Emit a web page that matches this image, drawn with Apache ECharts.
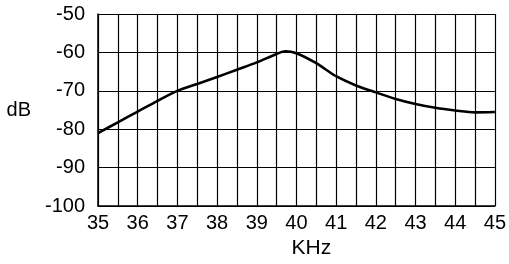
<!DOCTYPE html>
<html>
<head>
<meta charset="utf-8">
<script src="https://cdn.jsdelivr.net/npm/echarts@6/dist/echarts.min.js"></script>
<style>
html,body{margin:0;padding:0;background:#fff;}
#chart{width:509px;height:264px;}
</style>
</head>
<body>
<div id="chart"></div>
<script>
// 频率响应曲线 (kHz, dB)
var freq = [35, 35.5, 36, 36.5, 37, 37.5, 38, 38.5, 39, 39.5, 39.72, 40, 40.5, 41, 41.5, 42, 42.5, 43, 43.5, 44, 44.5, 45];
var gain = [-81, -78.2, -75.4, -72.6, -70, -68.2, -66.4, -64.5, -62.6, -60.4, -59.7, -60.2, -62.8, -66.2, -68.6, -70.4, -72.1, -73.4, -74.4, -75.1, -75.6, -75.5];
var yTicks = [-100, -90, -80, -70, -60, -50];

var pts = [];
for (var i = 0; i < freq.length; i++) {
    pts.push([freq[i], gain[i]]);
}

var font = 'Liberation Sans, Arial, sans-serif';
var option = {
    animation: false,
    grid: {
        left: 98,
        right: 11,
        top: 14,
        bottom: 57
    },
    xAxis: {
        type: 'value',
        min: 35,
        max: 45,
        interval: 0.5,
        name: 'KHz',
        nameLocation: 'middle',
        nameGap: 31,
        nameTextStyle: {color: '#000', fontSize: 21, fontFamily: font, padding: [0, 0, 0, 30]},
        axisLine: {show: true, lineStyle: {color: '#000', width: 1.5}},
        axisTick: {show: false},
        axisLabel: {
            color: '#000',
            fontSize: 20,
            fontFamily: font,
            margin: 7,
            formatter: function (v) {
                return v % 1 === 0 ? String(v) : '';
            }
        },
        splitLine: {show: true, lineStyle: {color: '#000', width: 1.2}}
    },
    yAxis: {
        type: 'value',
        min: yTicks[0],
        max: yTicks[yTicks.length - 1],
        interval: 10,
        name: 'dB',
        nameLocation: 'middle',
        nameRotate: 0,
        nameGap: 67,
        nameTextStyle: {color: '#000', fontSize: 20, fontFamily: font},
        axisLine: {show: true, lineStyle: {color: '#000', width: 1.5}},
        axisTick: {show: false},
        axisLabel: {color: '#000', fontSize: 20, fontFamily: font, margin: 13},
        splitLine: {show: true, lineStyle: {color: '#000', width: 1.2}}
    },
    series: [{
        type: 'line',
        data: pts,
        smooth: 0.3,
        showSymbol: false,
        lineStyle: {color: '#000', width: 2.6}
    }]
};

var myChart = echarts.init(document.getElementById('chart'));
myChart.setOption(option);
</script>
</body>
</html>
